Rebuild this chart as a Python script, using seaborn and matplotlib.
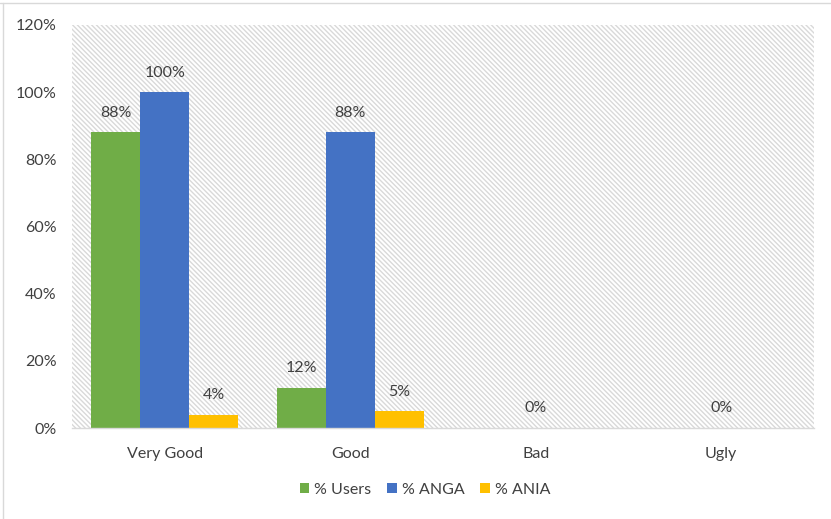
import matplotlib
matplotlib.use("Agg")
import matplotlib.pyplot as plt
import seaborn as sns
import pandas as pd
import numpy as np
from matplotlib.patches import Rectangle
from matplotlib.lines import Line2D

categories = ["Very Good", "Good", "Bad", "Ugly"]
series_names = ["% Users", "% ANGA", "% ANIA"]
users = [88, 12, 0, 0]
anga = [100, 88, 0, 0]
ania = [4, 5, 0, 0]
colors = ["#70AD47", "#4472C4", "#FFC000"]
yticks = [0, 20, 40, 60, 80, 100, 120]

df = pd.DataFrame({
    "cat": categories * 3,
    "series": sum([[s] * 4 for s in series_names], []),
    "val": users + anga + ania,
})

sns.set_theme(style="white")
plt.rcParams["font.family"] = ["Lato", "DejaVu Sans"]
plt.rcParams["hatch.linewidth"] = 1.0
plt.rcParams["hatch.color"] = "#D9D9D9"

FS = 11.5
fig = plt.figure(figsize=(8.31, 5.19), dpi=100)
ax = fig.add_axes([72 / 831, 1 - 428 / 519, (814 - 72) / 831, (428 - 25) / 519])

bg = Rectangle((0, 0), 1, 1, transform=ax.transAxes, facecolor="white",
               edgecolor="#D9D9D9", hatch="\\\\\\\\\\\\\\", linewidth=0, zorder=0)
ax.add_patch(bg)

sns.barplot(data=df, x="cat", y="val", hue="series", palette=colors,
            width=0.79, gap=0, saturation=1, ax=ax, zorder=2, legend=True,
            linewidth=0, edgecolor="none")

ax.set_ylim(0, 120)
ax.set_xlim(-0.5, 3.5)
ax.set_yticks(yticks)
ax.set_yticklabels([f"{t}%" for t in yticks], color="#404040", fontsize=FS)
ax.tick_params(axis="x", labelsize=FS, labelcolor="#404040", length=0, pad=14)
ax.tick_params(axis="y", length=0, pad=11)
ax.set_xlabel("")
ax.set_ylabel("")
for s in ["top", "right", "left"]:
    ax.spines[s].set_visible(False)
ax.spines["bottom"].set_color("#D9D9D9")
ax.spines["bottom"].set_linewidth(1)

for i, cont in enumerate(ax.containers):
    labels = []
    for j, v in enumerate(cont.datavalues):
        if v > 0 or i == 1:
            labels.append(f"{v:.0f}%")
        else:
            labels.append("")
    ax.bar_label(cont, labels=labels, padding=9, fontsize=FS, color="#404040")

handles, labs = ax.get_legend_handles_labels()
ax.legend(handles, labs, loc="center", bbox_to_anchor=((425 - 72) / 742, -0.153),
          ncol=3, frameon=False, fontsize=FS, handlelength=0.6, handleheight=0.6,
          handletextpad=0.3, columnspacing=1.0, labelcolor="#404040")

fig.add_artist(Line2D([0, 1], [1 - 3 / 519, 1 - 3 / 519], color="#D9D9D9", lw=1, transform=fig.transFigure))
fig.add_artist(Line2D([3 / 831, 3 / 831], [0, 1 - 3 / 519], color="#D9D9D9", lw=1, transform=fig.transFigure))

fig.savefig("out.png", dpi=100)
